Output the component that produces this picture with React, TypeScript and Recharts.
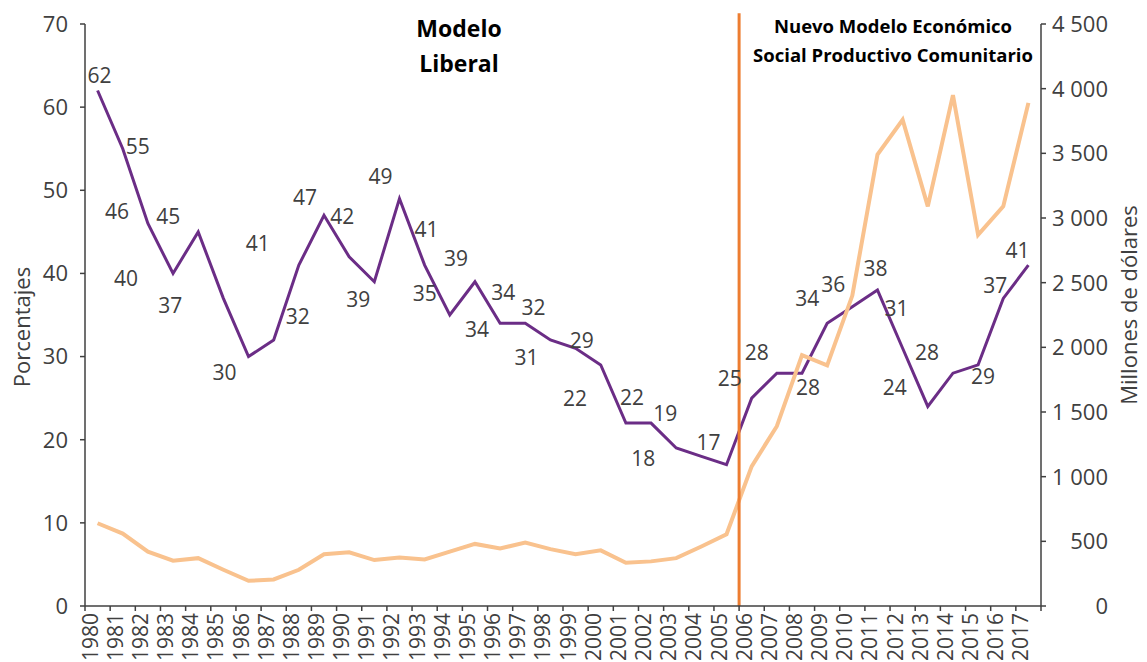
import React from 'react';
import { LineChart, Line, XAxis, YAxis, ReferenceLine } from 'recharts';

const years = ['1980','1981','1982','1983','1984','1985','1986','1987','1988','1989','1990','1991','1992','1993','1994','1995','1996','1997','1998','1999','2000','2001','2002','2003','2004','2005','2006','2007','2008','2009','2010','2011','2012','2013','2014','2015','2016','2017'];
const porcentajes = [62,55,46,40,45,37,30,32,41,47,42,39,49,41,35,39,34,34,32,31,29,22,22,19,18,17,25,28,28,34,36,38,31,24,28,29,37,41];
const millonesUsd = [640,560,420,350,370,280,195,205,280,400,415,355,375,360,420,480,445,490,440,400,430,335,345,370,460,555,1080,1390,1940,1860,2400,3490,3760,3090,3950,2870,3090,3890];
const leftTicks = [0,10,20,30,40,50,60,70];
const rightTicks = [0,500,1000,1500,2000,2500,3000,3500,4000,4500];
// label placement relative to each point (dx, dy in px)
const labelOffsets: [number, number][] = [[2,-15],[15,-2],[-31,-12],[-47,5],[-30,-15],[-53,7],[-24,16],[24,-23],[-41,-22],[-19,-18],[-7,-40],[-16,18],[-19,-22],[2,-36],[-25,-22],[-19,-23],[-23,6],[-22,-31],[-17,-32],[-49,9],[-19,-24],[-51,-25],[-19,-26],[-11,-35],[-58,2],[-18,-22],[-22,-20],[-20,-21],[6,14],[-20,-25],[-19,-22],[-2,-22],[-6,-40],[-33,-19],[-26,-21],[5,12],[-8,-13],[-11,-15]];

const data = years.map((y, i) => ({ idx: i, year: y, pct: porcentajes[i], usd: millonesUsd[i] }));

const W = 1147, H = 662;
const LEFT = 85, RIGHT_W = 106, TOP = 24, BOTTOM_H = 56;
const PLOT_BOTTOM = H - BOTTOM_H;
const BAND = (W - LEFT - RIGHT_W) / years.length;
const TXT = '#404040';
const FONT = '"Open Sans", sans-serif';

const fmtThousands = (v: number) => {
  if (v < 1000) return String(v);
  const th = Math.floor(v / 1000);
  const rest = String(v % 1000).padStart(3, '0');
  return `${th} ${rest}`;
};

const XTick = (props: any) => {
  const { x, payload } = props;
  const i = payload.value as number;
  const half = BAND / 2;
  const ty = PLOT_BOTTOM + 7;
  return (
    <g>
      <line x1={x - half} x2={x - half} y1={PLOT_BOTTOM} y2={PLOT_BOTTOM + 5} stroke={TXT} strokeWidth={1.5} />
      {i === years.length - 1 && (
        <line x1={x + half} x2={x + half} y1={PLOT_BOTTOM} y2={PLOT_BOTTOM + 5} stroke={TXT} strokeWidth={1.5} />
      )}
      <text x={x} y={ty} transform={`rotate(-90 ${x} ${ty})`} textAnchor="end" fontSize={21} fill={TXT} fontFamily={FONT}>
        {years[i]}
      </text>
    </g>
  );
};

const RightTick = (props: any) => {
  const { y, payload } = props;
  return (
    <text x={1108} y={y} dy={8} textAnchor="end" fontSize={22} fill={TXT} fontFamily={FONT}>
      {fmtThousands(payload.value)}
    </text>
  );
};

const renderLabel = (props: any) => {
  const { x, y, index, value } = props;
  const off = labelOffsets[index] || [0, -15];
  return (
    <text key={`lbl-${index}`} x={x + off[0]} y={y + off[1]} dy={7.5} textAnchor="middle" fontSize={21} fill={TXT} fontFamily={FONT}>
      {value}
    </text>
  );
};

export default function App() {
  return (
    <div style={{ position: 'absolute', left: 0, top: 0, width: W, height: H, background: '#fff' }}>
      <LineChart width={W} height={H} data={data} margin={{ top: TOP, right: 0, bottom: 0, left: 0 }}>
        <XAxis
          dataKey="idx"
          type="number"
          domain={[-0.5, years.length - 0.5]}
          ticks={years.map((_, i) => i)}
          interval={0}
          height={BOTTOM_H}
          tickLine={false}
          axisLine={{ stroke: TXT, strokeWidth: 1.5 }}
          tick={<XTick />}
        />
        <YAxis
          yAxisId="left"
          orientation="left"
          width={LEFT}
          domain={[0, 70]}
          ticks={leftTicks}
          interval={0}
          tickSize={5}
          tickMargin={12}
          axisLine={{ stroke: TXT, strokeWidth: 1.5 }}
          tickLine={{ stroke: TXT, strokeWidth: 1.5 }}
          tick={{ fontSize: 22, fill: TXT, fontFamily: FONT }}
        />
        <YAxis
          yAxisId="right"
          orientation="right"
          width={RIGHT_W}
          domain={[0, 4500]}
          ticks={rightTicks}
          interval={0}
          tickSize={5}
          axisLine={{ stroke: TXT, strokeWidth: 1.5 }}
          tickLine={{ stroke: TXT, strokeWidth: 1.5 }}
          tick={<RightTick />}
        />
        <Line
          yAxisId="left"
          type="linear"
          dataKey="pct"
          stroke="#6B2D86"
          strokeWidth={3}
          dot={false}
          isAnimationActive={false}
          label={renderLabel}
        />
        <Line
          yAxisId="right"
          type="linear"
          dataKey="usd"
          stroke="#F9C28E"
          strokeWidth={4}
          dot={false}
          isAnimationActive={false}
        />
        <ReferenceLine
          yAxisId="left"
          segment={[{ x: 25.5, y: 0 }, { x: 25.5, y: 71.3 }]}
          stroke="#ED7D31"
          strokeWidth={3}
          ifOverflow="visible"
        />
      </LineChart>
      <svg width={W} height={H} style={{ position: 'absolute', left: 0, top: 0, pointerEvents: 'none' }}>
        <text x={459} y={37} textAnchor="middle" fontSize={23} fontWeight={700} fill="#000" fontFamily={FONT}>Modelo</text>
        <text x={459} y={72} textAnchor="middle" fontSize={23} fontWeight={700} fill="#000" fontFamily={FONT}>Liberal</text>
        <text x={893} y={33} textAnchor="middle" fontSize={18.5} fontWeight={700} fill="#000" fontFamily={FONT}>Nuevo Modelo Económico</text>
        <text x={893} y={62} textAnchor="middle" fontSize={18.5} fontWeight={700} fill="#000" fontFamily={FONT}>Social Productivo Comunitario</text>
        <text x={30} y={327} transform="rotate(-90 30 327)" textAnchor="middle" fontSize={22} fill={TXT} fontFamily={FONT}>Porcentajes</text>
        <text x={1137} y={305} transform="rotate(-90 1137 305)" textAnchor="middle" fontSize={22} fill={TXT} fontFamily={FONT}>Millones de dólares</text>
      </svg>
    </div>
  );
}
